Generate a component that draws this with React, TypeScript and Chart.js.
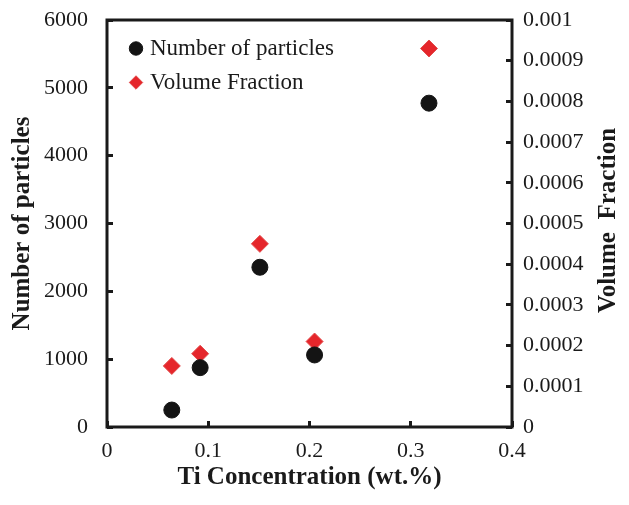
import React, { useEffect, useRef } from "react";
import { Chart, registerables } from "chart.js";

Chart.register(...registerables);

// Ti concentration (wt.%) of the five alloys
const tiConcentration = [0.064, 0.092, 0.151, 0.205, 0.318];
// Counted precipitate particles
const particleCounts = [250, 875, 2355, 1062, 4774];
// Measured volume fraction of the particles
const volumeFractions = [0.00015, 0.00018, 0.00045, 0.00021, 0.00093];

const xTickLabels = ["0", "0.1", "0.2", "0.3", "0.4"];
const yTickLabels = ["0", "1000", "2000", "3000", "4000", "5000", "6000"];
const y1TickLabels = [
  "0", "0.0001", "0.0002", "0.0003", "0.0004", "0.0005",
  "0.0006", "0.0007", "0.0008", "0.0009", "0.001",
];

const SERIF = "'Liberation Serif', 'Times New Roman', serif";
const INK = "#1a1a1a";

// Legend placement inside the plot, frame around the plotting area,
// and the right-hand axis title (reads upward like the left one)
const framePlugin = {
  id: "frameAndRightTitle",
  afterLayout(chart: any) {
    const lg = chart.legend;
    const ca = chart.chartArea;
    if (lg && ca) {
      const h = lg.height;
      const w = lg.width;
      lg.left = ca.left + 15.5;
      lg.right = lg.left + w;
      lg.top = ca.top + 6;
      lg.bottom = lg.top + h;
    }
  },
  afterDraw(chart: any) {
    const { ctx, chartArea } = chart;
    ctx.save();
    ctx.strokeStyle = INK;
    ctx.lineWidth = 3;
    ctx.strokeRect(
      chartArea.left,
      chartArea.top,
      chartArea.right - chartArea.left,
      chartArea.bottom - chartArea.top
    );
    ctx.translate(609, (chartArea.top + chartArea.bottom) / 2 - 3);
    ctx.rotate(-Math.PI / 2);
    ctx.fillStyle = INK;
    ctx.font = `bold 25px ${SERIF}`;
    ctx.textAlign = "center";
    ctx.textBaseline = "middle";
    ctx.fillText("Volume  Fraction", 0, 0);
    ctx.restore();
  },
};

const tickGrid = {
  display: true,
  drawOnChartArea: false,
  drawTicks: true,
  tickLength: -6,
  tickWidth: 3,
  tickColor: INK,
};

export default function App() {
  const canvasRef = useRef<HTMLCanvasElement | null>(null);

  useEffect(() => {
    const canvas = canvasRef.current;
    if (!canvas) return;

    const chart = new Chart(canvas, {
      type: "scatter",
      data: {
        datasets: [
          {
            label: "Number of particles",
            data: tiConcentration.map((x, i) => ({ x, y: particleCounts[i] })),
            yAxisID: "y",
            pointStyle: "circle",
            pointRadius: 8,
            pointHoverRadius: 8,
            backgroundColor: "#141414",
            borderColor: "#141414",
            borderWidth: 1,
          },
          {
            label: "Volume Fraction",
            data: tiConcentration.map((x, i) => ({ x, y: volumeFractions[i] })),
            yAxisID: "y1",
            pointStyle: "rectRot",
            pointRadius: 8.5,
            pointHoverRadius: 8.5,
            backgroundColor: "#e5262b",
            borderColor: "#e24a4a",
            borderWidth: 1,
          },
        ],
      },
      options: {
        responsive: false,
        animation: false,
        devicePixelRatio: 1,
        layout: { padding: { top: 20, left: 0, right: 0, bottom: 0 } },
        plugins: {
          tooltip: { enabled: false },
          legend: {
            position: "chartArea",
            align: "start",
            labels: {
              usePointStyle: true,
              boxHeight: 9.5,
              boxWidth: 5,
              padding: 11,
              color: INK,
              font: { family: SERIF, size: 23 },
            },
          },
        },
        scales: {
          x: {
            type: "linear",
            position: "bottom",
            min: 0,
            max: 0.4,
            border: { display: false },
            grid: tickGrid,
            ticks: {
              stepSize: 0.1,
              padding: 17,
              color: INK,
              font: { family: SERIF, size: 22 },
              callback: (_v: any, i: number) => xTickLabels[i],
            },
            title: {
              display: true,
              text: "Ti Concentration (wt.%)",
              color: INK,
              font: { family: SERIF, size: 25, weight: "bold" },
              padding: { top: 0, bottom: 12 },
            },
            afterFit: (s: any) => {
              s.height = 78;
              s.paddingLeft = 0;
              s.paddingRight = 0;
            },
          },
          y: {
            type: "linear",
            position: "left",
            min: 0,
            max: 6000,
            border: { display: false },
            grid: tickGrid,
            ticks: {
              stepSize: 1000,
              padding: 25,
              color: INK,
              font: { family: SERIF, size: 22 },
              callback: (_v: any, i: number) => yTickLabels[i],
            },
            title: {
              display: true,
              text: "Number of particles",
              color: INK,
              font: { family: SERIF, size: 25, weight: "bold" },
              padding: { top: 8, bottom: 0 },
            },
            afterFit: (s: any) => {
              s.width = 107;
              s.paddingTop = 0;
              s.paddingBottom = 0;
            },
          },
          y1: {
            type: "linear",
            position: "right",
            min: 0,
            max: 0.001,
            border: { display: false },
            grid: tickGrid,
            ticks: {
              stepSize: 0.0001,
              padding: 17,
              color: INK,
              font: { family: SERIF, size: 22 },
              callback: (_v: any, i: number) => y1TickLabels[i],
            },
            title: { display: false },
            afterFit: (s: any) => {
              s.width = 117;
              s.paddingTop = 0;
              s.paddingBottom = 0;
            },
          },
        },
      },
      plugins: [framePlugin],
    });

    return () => chart.destroy();
  }, []);

  return (
    <div style={{ position: "fixed", left: 0, top: 0, width: 629, height: 505, background: "#fff" }}>
      <canvas ref={canvasRef} width={629} height={505} style={{ display: "block" }} />
    </div>
  );
}
